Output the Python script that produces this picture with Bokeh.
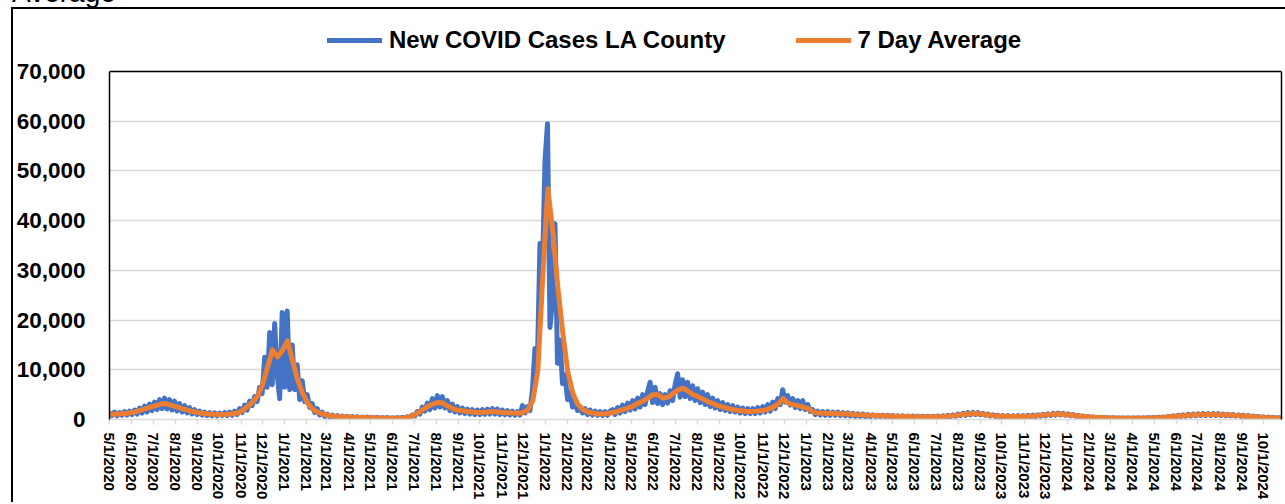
import pandas as pd
from bokeh.plotting import figure
from bokeh.layouts import column
from bokeh.models import (ColumnDataSource, Range1d, FixedTicker, NumeralTickFormatter,
                          Legend, LegendItem, Div, Span, LinearAxis)
from bokeh.embed import file_html
from bokeh.resources import INLINE

FONT = "Liberation Sans"
BLUE = "#4472C4"
ORANGE = "#ED7D31"

# New COVID cases in LA County, two readings per week (every 3.5 days from 5/1/2020)
cases_start = "2020-05-01"
new_cases = [
    1300, 800, 1500, 750, 1400, 850, 1600, 900, 1700,
    1000, 1900, 1100, 2300, 1300, 2700, 1500, 3100,
    1800, 3500, 2000, 4000, 2200, 4300, 2100, 4000,
    1900, 3700, 1700, 3200, 1500, 2800, 1300, 2400,
    1100, 2000, 1000, 1700, 900, 1500, 800, 1400,
    750, 1350, 750, 1300, 800, 1400, 800, 1500,
    850, 1700, 1000, 2200, 1400, 2900, 1900, 3700,
    2800, 4600, 3600, 6500, 5200, 12500, 6500, 17500,
    7000, 19300, 9000, 4200, 21500, 6500, 21800, 6000, 15000,
    6000, 11000, 4000, 7800, 3600, 5000, 2400,
    3200, 1400, 2200, 900, 1500, 600, 1100, 500,
    900, 450, 800, 400, 700, 350, 650, 330, 600, 300, 560, 280, 520, 250, 480, 230,
    450, 220, 420, 200, 400, 190, 380, 170, 350, 170, 360, 200, 420, 260, 550, 350,
    900, 700, 1600, 1100, 2500, 1700, 3300, 2000,
    4200, 2300, 4800, 2500, 4600, 2300, 3800, 1800,
    3100, 1500, 2600, 1300, 2300, 1200, 2100, 1100,
    2000, 1000, 1900, 1000, 2000, 1050, 2100, 1100, 2200, 1100, 2100, 1000, 1900, 950, 1800, 900,
    1700, 850, 1600, 900, 2800, 1300, 2600, 1800,
    6000, 14300, 12000, 35400, 30000, 52000, 59500, 18500,
    24000, 39400, 11300, 16000, 7200, 9000, 4000, 5500, 2500, 3500, 1800, 2600,
    1300, 2200, 1000, 1900, 900, 1700, 850, 1600, 800, 1600, 850, 1700,
    2000, 1000, 2400, 1300, 2900, 1600, 3300, 1900,
    3800, 2100, 4300, 2500, 5000, 3000, 5600, 7500,
    3400, 6500, 3200, 5200, 3000, 5000, 3300, 5800,
    3800, 7000, 9200, 4500, 8000, 4600, 7500, 4200,
    6800, 3800, 6200, 3400, 5500, 3000, 5000, 2600,
    4300, 2300, 3800, 2000, 3400, 1800, 3000, 1600,
    2800, 1500, 2500, 1300, 2300, 1200, 2200, 1200,
    2200, 1200, 2400, 1300, 2600, 1500, 3000, 1700,
    3500, 2200, 4200, 3000, 6000, 3500, 4800, 2900,
    4200, 2400, 3800, 2200, 3800, 2000, 3000, 1600,
    2000, 1000, 1700, 900, 1600, 850, 1600, 850,
    1500, 850, 1500, 800, 1400, 750, 1350, 700, 1250, 650, 1150, 600, 1100, 550, 1000, 550,
    950, 600, 900, 580, 880, 550, 850, 520, 800, 500, 770, 480, 740, 460, 720, 440,
    700, 420, 680, 400, 660, 390, 650, 390, 660, 400, 700, 430, 760, 470, 850, 520,
    950, 650, 1100, 750, 1250, 850, 1400, 950, 1450, 1000, 1400, 950, 1250, 850, 1100, 700,
    950, 600, 850, 550, 800, 500, 780, 480, 770, 480, 780, 490, 800, 500, 830, 520,
    880, 580, 960, 650, 1050, 730, 1150, 800, 1250, 880, 1300, 900, 1250, 850, 1150, 750,
    1000, 650, 850, 550, 720, 450, 600, 380, 520, 330, 450, 280, 400, 250, 370, 230,
    350, 220, 330, 210, 320, 200, 310, 200, 310, 200, 320, 210, 340, 220, 360, 240, 400, 270, 450, 300,
    520, 350, 620, 420, 750, 500, 850, 580, 950, 650, 1050, 700, 1100, 760, 1150, 800, 1200, 820, 1200, 830,
    1200, 820, 1180, 800, 1120, 760, 1050, 720, 1000, 680, 930, 620, 850, 560, 780, 500, 700, 450, 620, 400,
    540, 350, 480, 310, 420, 280, 380, 250,
]

# 7-day average: first day, then weekly from 5/5/2020, then the last day
avg_first_date, avg_last_date = "2020-05-01", "2024-10-25"
avg_weekly_start = "2020-05-05"
avg_first = 1000
avg_weekly = [
    1050, 1100, 1150, 1250, 1400, 1700, 2000, 2300, 2600, 2900,
    3200, 3100, 2800, 2500, 2200, 1900, 1600, 1400, 1250, 1150,
    1050, 1000, 1000, 1050, 1150, 1300, 1800, 2600, 3500, 4700,
    7000, 10500, 14000, 12600, 13900, 15800, 11800, 8000, 5300, 3300,
    2100, 1500, 1100, 850, 700, 600, 550, 500, 450, 420,
    380, 350, 330, 300, 290, 270, 250, 260, 300, 420,
    750, 1300, 2000, 2600, 3100, 3400, 3300, 2700, 2200, 1900,
    1750, 1600, 1500, 1400, 1450, 1500, 1600, 1500, 1400, 1350,
    1300, 1250, 1400, 1900, 3800, 9800, 29000, 46400, 37800, 26500,
    17300, 9500, 5300, 3000, 2000, 1500, 1300, 1150, 1100, 1200,
    1400, 1700, 2000, 2300, 2700, 3200, 3700, 4300, 5000, 5000,
    4300, 4500, 5200, 5900, 6300, 5700, 5000, 4600, 4100, 3600,
    3200, 2800, 2500, 2200, 2000, 1800, 1700, 1600, 1600, 1700,
    1800, 2100, 2500, 3100, 4200, 3300, 3000, 2800, 2500, 2200,
    1500, 1300, 1250, 1200, 1200, 1150, 1100, 1100, 1000, 950,
    900, 850, 800, 780, 750, 700, 650, 620, 600, 580,
    550, 530, 520, 520, 530, 560, 600, 680, 780, 880,
    1000, 1100, 1200, 1150, 1050, 900, 780, 700, 650, 620,
    600, 600, 620, 650, 700, 780, 880, 980, 1050, 1100,
    1050, 950, 850, 720, 600, 500, 430, 380, 340, 310,
    290, 270, 260, 250, 250, 260, 270, 290, 320, 360,
    420, 500, 600, 700, 780, 850, 900, 950, 980, 1000,
    1000, 980, 950, 900, 850, 780, 700, 620, 540, 470,
    410, 360, 320, 300,
]
avg_last = 290

y_ticks = [0, 10000, 20000, 30000, 40000, 50000, 60000, 70000]
y_max = 70000
month_ticks = pd.date_range("2020-05-01", "2024-10-01", freq="MS")
tick_ms = [int(t.value // 10**6) for t in month_ticks]
tick_labels = [f"{t.month}/{t.day}/{t.year}" for t in month_ticks]

cases_dates = pd.date_range(cases_start, periods=len(new_cases), freq="84h")
avg_dates = ([pd.Timestamp(avg_first_date)]
             + list(pd.date_range(avg_weekly_start, periods=len(avg_weekly), freq="7D"))
             + [pd.Timestamp(avg_last_date)])
avg_values = [avg_first] + avg_weekly + [avg_last]

cases_src = ColumnDataSource(dict(date=cases_dates, cases=new_cases))
avg_src = ColumnDataSource(dict(date=avg_dates, avg=avg_values))

# the frame reaches above the plot box so the legend can sit over it
FIG_H, BORDER_TOP, BORDER_BOTTOM = 495, 10, 85
frame_h = FIG_H - BORDER_TOP - BORDER_BOTTOM
box_h = 348
y_top = y_max * frame_h / box_h

p = figure(width=1272, height=FIG_H, x_axis_type="datetime", title=None,
           x_range=Range1d(pd.Timestamp("2020-05-01"), pd.Timestamp("2024-10-26")),
           y_range=Range1d(0, y_top),
           output_backend="svg", toolbar_location=None,
           min_border_left=96, min_border_right=4, min_border_top=BORDER_TOP,
           min_border_bottom=BORDER_BOTTOM,
           background_fill_color="white", border_fill_color="white",
           margin=(0, 0, 0, 13),
           styles={"box-shadow": "-2px -2px 0 0 black, 0 -2px 0 0 black"})
p.outline_line_color = None

r_cases = p.line("date", "cases", source=cases_src, color=BLUE, line_width=5,
                 line_join="round", line_cap="round")
r_avg = p.line("date", "avg", source=avg_src, color=ORANGE, line_width=5,
               line_join="round", line_cap="round")

# y axis; its line is the left side of the plot box
p.yaxis.ticker = FixedTicker(ticks=y_ticks)
p.yaxis.formatter = NumeralTickFormatter(format="0,0")
p.yaxis.bounds = (0, y_max)
p.yaxis.axis_line_color = "black"
p.yaxis.axis_line_width = 1.5
p.yaxis.major_tick_line_color = None
p.yaxis.minor_tick_line_color = None
p.yaxis.major_tick_out = 0
p.yaxis.minor_tick_out = 0
p.yaxis.major_label_standoff = 24
p.yaxis.major_label_text_font = FONT
p.yaxis.major_label_text_font_style = "bold"
p.yaxis.major_label_text_font_size = "22.5px"
p.yaxis.major_label_text_color = "black"
p.ygrid.ticker = FixedTicker(ticks=y_ticks)
p.ygrid.grid_line_color = "#d9d9d9"
p.ygrid.grid_line_width = 1.5
p.xgrid.visible = False

# right and top sides of the plot box
right_side = LinearAxis(bounds=(0, y_max), axis_line_color="black", axis_line_width=1.5,
                        major_tick_line_color=None, minor_tick_line_color=None,
                        major_tick_out=0, minor_tick_out=0, major_label_standoff=0,
                        major_label_text_font_size="0px", ticker=FixedTicker(ticks=[]))
p.add_layout(right_side, "right")
p.add_layout(Span(location=y_max, dimension="width", line_color="black", line_width=1.5))

# x axis: one tick per month
p.xaxis.ticker = FixedTicker(ticks=tick_ms)
p.xaxis.major_label_overrides = dict(zip(tick_ms, tick_labels))
p.xaxis.major_label_orientation = "vertical"
p.xaxis.axis_line_color = "#d9d9d9"
p.xaxis.axis_line_width = 1.5
p.xaxis.major_tick_line_color = "#d9d9d9"
p.xaxis.major_tick_line_width = 1.5
p.xaxis.major_tick_in = 0
p.xaxis.major_tick_out = 5
p.xaxis.minor_tick_out = 0
p.xaxis.minor_tick_line_color = None
p.xaxis.major_label_standoff = 8
p.xaxis.major_label_text_font = FONT
p.xaxis.major_label_text_font_style = "bold"
p.xaxis.major_label_text_font_size = "15px"
p.xaxis.major_label_text_color = "black"

legend = Legend(items=[LegendItem(label="New COVID Cases LA County", renderers=[r_cases]),
                       LegendItem(label="7 Day Average", renderers=[r_avg])],
                orientation="horizontal", location=(218, frame_h - 8.5 - 26),
                glyph_width=55, glyph_height=26, label_height=26, label_standoff=7,
                spacing=70, padding=0, margin=0,
                border_line_alpha=0, background_fill_alpha=0,
                label_text_font=FONT, label_text_font_style="bold",
                label_text_font_size="24px", label_text_color="black")
p.add_layout(legend, "center")

# last line of the chart title, running off the top of the page
title_tail = Div(text=('<div style="position:relative; top:-21px; left:12px; '
                       'font-family:\'Liberation Sans\'; font-size:28px; line-height:28px; '
                       'white-space:nowrap; color:black;">Average</div>'),
                 width=300, height=9, margin=0)

page = column(title_tail, p, spacing=0, margin=0)

open("out.html", "w").write(file_html(page, INLINE))
